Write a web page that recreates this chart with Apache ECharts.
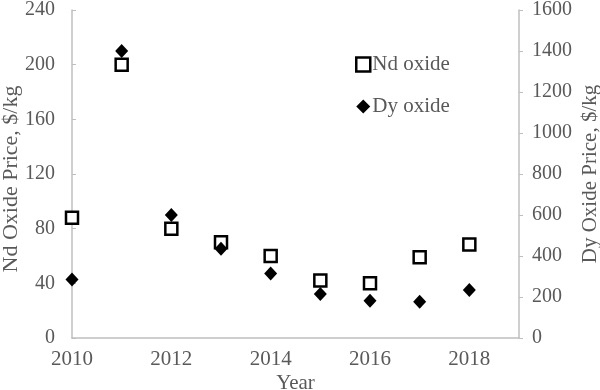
<!DOCTYPE html>
<html><head><meta charset="utf-8">
<script src="https://cdn.jsdelivr.net/npm/echarts@6/dist/echarts.min.js"></script>
<style>html,body{margin:0;padding:0;background:#fff}#c{width:600px;height:390px}</style>
</head><body><div id="c"></div>
<script>
const years = [2010, 2011, 2012, 2013, 2014, 2015, 2016, 2017, 2018];
const ndOxide = [88, 200, 80, 70, 60, 42, 40, 59, 68.5];
const dyOxide = [285, 1400, 600, 435, 315, 215, 182, 177, 234];
const FONT = 'Liberation Serif';
const TXT = '#595959';
const AX = '#bfbfbf';
const chart = echarts.init(document.getElementById('c'));
const fmt = v => String(v);
chart.setOption({
  animation: false,
  textStyle: {fontFamily: FONT},
  grid: {left: 72, right: 81, top: 10, bottom: 52, outerBoundsMode: 'none', containLabel: false},
  legend: {
    orient: 'vertical', left: 350, top: 49, itemGap: 21, itemWidth: 14, itemHeight: 14,
    textStyle: {fontFamily: FONT, fontSize: 21, color: TXT, padding: [0,0,0,-3]},
    data: [
      {name: 'Nd oxide', icon: 'rect', itemStyle: {color: '#fff', borderColor: '#000', borderWidth: 2.5, opacity: 1}},
      {name: 'Dy oxide', icon: 'diamond', itemStyle: {color: '#000', opacity: 1}}
    ]
  },
  xAxis: {
    type: 'value', min: 2010, max: 2019, interval: 2,
    name: 'Year', nameLocation: 'middle', nameGap: 35, nameMoveOverlap: false,
    nameTextStyle: {fontFamily: FONT, fontSize: 21, color: TXT},
    axisLine: {lineStyle: {color: AX, width: 1.5}},
    axisTick: {show: false},
    splitLine: {show: false},
    axisLabel: {formatter: fmt, fontFamily: FONT, fontSize: 21, color: TXT, margin: 11, showMaxLabel: false}
  },
  yAxis: [
    {
      type: 'value', min: 0, max: 240, interval: 40, position: 'left',
      name: 'Nd Oxide Price, $/kg', nameLocation: 'middle', nameGap: 50, nameMoveOverlap: false,
      nameTextStyle: {fontFamily: FONT, fontSize: 22, color: TXT, padding: [0, 10, 0, 0]},
      axisLine: {show: true, lineStyle: {color: AX, width: 1.5}},
      axisTick: {show: true, inside: true, length: 4, lineStyle: {color: AX}},
      splitLine: {show: false},
      axisLabel: {formatter: fmt, fontFamily: FONT, fontSize: 20, color: TXT, margin: 17}
    },
    {
      type: 'value', min: 0, max: 1600, interval: 200, position: 'right',
      name: 'Dy Oxide Price, $/kg', nameLocation: 'middle', nameGap: 61, nameMoveOverlap: false,
      nameTextStyle: {fontFamily: FONT, fontSize: 21, color: TXT},
      axisLine: {show: true, lineStyle: {color: AX, width: 1.5}},
      axisTick: {show: true, length: 4, lineStyle: {color: AX}},
      splitLine: {show: false},
      axisLabel: {formatter: fmt, fontFamily: FONT, fontSize: 20, color: TXT, margin: 13}
    }
  ],
  series: [
    {
      name: 'Nd oxide', type: 'scatter', yAxisIndex: 0, symbol: 'rect', symbolSize: 12,
      itemStyle: {color: '#fff', borderColor: '#000', borderWidth: 2.5, opacity: 1},
      data: years.map((y, i) => [y, ndOxide[i]]), z: 2
    },
    {
      name: 'Dy oxide', type: 'scatter', yAxisIndex: 1, symbol: 'diamond', symbolSize: [13, 14],
      itemStyle: {color: '#000', opacity: 1},
      data: years.map((y, i) => [y, dyOxide[i]]), z: 3
    }
  ]
});
</script></body></html>
